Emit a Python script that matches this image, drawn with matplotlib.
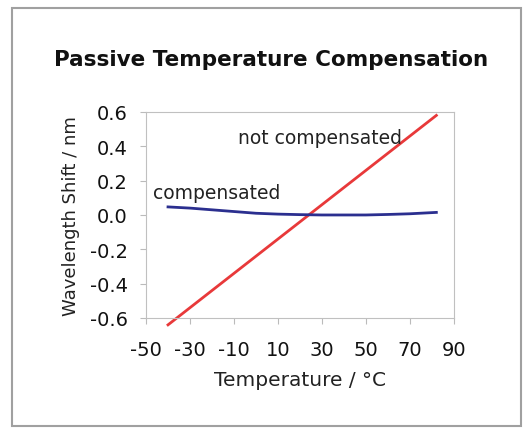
import matplotlib.pyplot as plt
from matplotlib.patches import Rectangle

plt.rcParams['font.family'] = ['DejaVu Sans']
plt.rcParams['axes.unicode_minus'] = False

# data
temp_not = [-40, 82]
shift_not = [-0.64, 0.58]

temp_comp = [-40, -30, -20, -10, 0, 10, 20, 30, 40, 50, 60, 70, 82]
shift_comp = [0.047, 0.040, 0.030, 0.020, 0.010, 0.005, 0.002, 0.0, 0.0, 0.0, 0.003, 0.007, 0.015]

x_ticks = [-50, -30, -10, 10, 30, 50, 70, 90]
y_ticks = [-0.6, -0.4, -0.2, 0.0, 0.2, 0.4, 0.6]

fig = plt.figure(figsize=(5.30, 4.31), dpi=100)
fig.patches.append(Rectangle((0.023, 0.01), 0.96, 0.968, transform=fig.transFigure,
                             fill=False, edgecolor='#a0a0a0', linewidth=1.5))

ax = fig.add_axes([0.2755, 0.2599, 0.581, 0.478])
ax.plot(temp_not, shift_not, color='#e8393a', linewidth=2, clip_on=False)
ax.plot(temp_comp, shift_comp, color='#2b2f8f', linewidth=2)

ax.text(-8.2, 0.454, 'not compensated', fontsize=13.5, va='center', ha='left', color='#222222')
ax.text(-46.8, 0.128, 'compensated', fontsize=13.5, va='center', ha='left', color='#222222')

ax.set_xlim(-50, 90)
ax.set_ylim(-0.6, 0.6)
ax.set_xticks(x_ticks)
ax.set_yticks(y_ticks)
ax.set_yticklabels([f'{v:.1f}' for v in y_ticks])
ax.tick_params(labelsize=14, length=4, color='#bbbbbb', labelcolor='#111111')
ax.tick_params(axis='x', pad=12)
ax.tick_params(axis='y', pad=9)
for s in ax.spines.values():
    s.set_color('#c0c0c0')

ax.set_xlabel('Temperature / °C', fontsize=14.5, labelpad=8, color='#222222')
ax.set_ylabel('Wavelength Shift / nm', fontsize=13, labelpad=7, color='#222222')

fig.text(0.512, 0.861, 'Passive Temperature Compensation', fontsize=15.5, fontweight='bold',
         ha='center', va='center', color='#111111')

fig.savefig('out.png', dpi=100)
